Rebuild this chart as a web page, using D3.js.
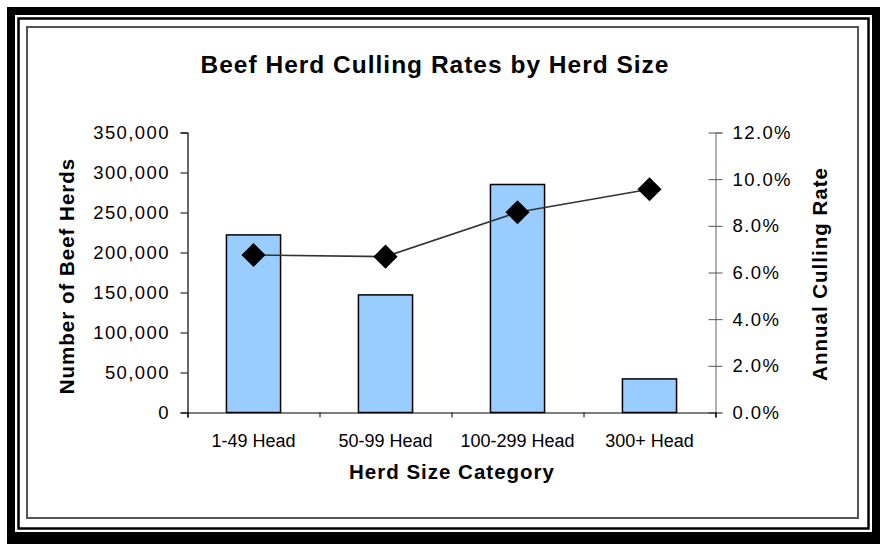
<!DOCTYPE html>
<html><head><meta charset="utf-8">
<script src="https://cdn.jsdelivr.net/npm/d3@7"></script>
<style>
html,body{margin:0;padding:0;background:#fff;}
svg{display:block;font-family:Arial,"Liberation Sans",sans-serif;}
</style></head>
<body><svg id="c" width="880" height="544"></svg>
<script>
const categories = ["1-49 Head", "50-99 Head", "100-299 Head", "300+ Head"];
const herdCounts = [222000, 147000, 285000, 42000];
const cullingRates = [6.75, 6.68, 8.58, 9.57];
const leftTicks = [0, 50000, 100000, 150000, 200000, 250000, 300000, 350000];
const rightTicks = [0, 2, 4, 6, 8, 10, 12];
const titleText = "Beef Herd Culling Rates by Herd Size";
const xTitle = "Herd Size Category";
const yLeftTitle = "Number of Beef Herds";
const yRightTitle = "Annual Culling Rate";

const svg = d3.select("#c");
// frames
svg.append("rect").attr("x",7).attr("y",7).attr("width",873).attr("height",537).attr("fill","#000");
svg.append("rect").attr("x",15).attr("y",15).attr("width",857).attr("height",517).attr("fill","#fff");
svg.append("rect").attr("x",18.5).attr("y",18.5).attr("width",850).attr("height",510)
  .attr("fill","none").attr("stroke","#000").attr("stroke-width",2.5);
svg.append("rect").attr("x",27).attr("y",27).attr("width",831).attr("height",491)
  .attr("fill","none").attr("stroke","#555").attr("stroke-width",2);

const L = 187.5, R = 715.5, T = 132.5, B = 412.5;
const x = d3.scaleBand().domain(categories).range([L, R]).paddingInner(0.59).paddingOuter(0.295);
const xEdges = d3.scaleLinear().domain([0, categories.length]).range([L, R]);
const yL = d3.scaleLinear().domain([0, 350000]).range([B, T]);
const yR = d3.scaleLinear().domain([0, 12]).range([B, T]);

// bars
svg.append("g").selectAll("rect").data(herdCounts).join("rect")
  .attr("x", (d,i) => x(categories[i]))
  .attr("y", d => yL(d))
  .attr("width", x.bandwidth())
  .attr("height", d => B - yL(d))
  .attr("fill", "#99ccff").attr("stroke", "#000").attr("stroke-width", 1.5);

// left axis
const gL = svg.append("g").attr("transform", `translate(${L},0)`)
  .call(d3.axisLeft(yL).tickValues(leftTicks).tickSize(7).tickPadding(12).tickFormat(d3.format(",")));
gL.select(".domain").attr("stroke","#000").attr("stroke-width",1.2);
gL.selectAll(".tick line").attr("stroke","#000");
gL.selectAll("text").attr("font-size","18.5px").attr("letter-spacing","1.4px").attr("fill","#000")
  .attr("font-family","Arial, 'Liberation Sans', sans-serif").attr("dx","1.4");

// right axis
const gR = svg.append("g").attr("transform", `translate(${R},0)`)
  .call(d3.axisRight(yR).tickValues(rightTicks).tickSize(7).tickPadding(10).tickFormat(d => d.toFixed(1) + "%"));
gR.select(".domain").attr("stroke","#7f7f7f").attr("stroke-width",1.2);
gR.selectAll(".tick line").attr("x1",-7).attr("stroke","#555");
gR.selectAll("text").attr("font-size","18.5px").attr("letter-spacing","1.4px").attr("fill","#000")
  .attr("font-family","Arial, 'Liberation Sans', sans-serif");

// bottom axis
const gB = svg.append("g").attr("transform", `translate(0,${B})`)
  .call(d3.axisBottom(xEdges).tickValues(d3.range(0, categories.length + 1)).tickSize(5).tickFormat(""));
gB.select(".domain").attr("stroke","#000").attr("stroke-width",1.2);
gB.selectAll(".tick line").attr("stroke","#000");
svg.append("g").selectAll("text").data(categories).join("text")
  .attr("x", d => x(d) + x.bandwidth()/2).attr("y", 446.5)
  .attr("text-anchor","middle").attr("font-size","18px").attr("fill","#000").text(d => d);

// line
const pts = cullingRates.map((v,i) => [x(categories[i]) + x.bandwidth()/2, yR(v)]);
svg.append("path").datum(pts).attr("d", d3.line()).attr("fill","none")
  .attr("stroke","#333").attr("stroke-width",1.6);
svg.append("g").selectAll("path").data(pts).join("path")
  .attr("d", d3.symbol(d3.symbolSquare, 290))
  .attr("transform", d => `translate(${d[0]},${d[1]}) rotate(45)`)
  .attr("fill","#000");

// titles
svg.append("text").attr("x", 435).attr("y", 72.5).attr("text-anchor","middle")
  .attr("font-size","24.5px").attr("font-weight","bold").attr("letter-spacing","1px").text(titleText);
svg.append("text").attr("x", 452).attr("y", 478.5).attr("text-anchor","middle")
  .attr("font-size","20.5px").attr("font-weight","bold").attr("letter-spacing","1px").text(xTitle);
svg.append("text").attr("transform","translate(73.5,276) rotate(-90)").attr("text-anchor","middle")
  .attr("font-size","20.5px").attr("font-weight","bold").attr("letter-spacing","1px").text(yLeftTitle);
svg.append("text").attr("transform","translate(827,274) rotate(-90)").attr("text-anchor","middle")
  .attr("font-size","20.5px").attr("font-weight","bold").attr("letter-spacing","1px").text(yRightTitle);
</script></body></html>
